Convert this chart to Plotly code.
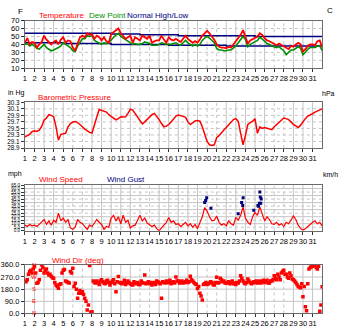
import plotly.graph_objects as go

# ---- observation data -------------------------------------------------------
days = list(range(1, 32))
day_labels = [str(d) for d in days]
weekend_days = [6, 7, 13, 14, 20, 21, 27, 28]

# 6-hourly observation times, as fractional day of month
obs_time = [d + h / 24 for d in range(1, 32) for h in (0, 6, 12, 18)] + [32]
# intermediate direction readings, 3 h after each main observation
mid_time = [d + h / 24 for d in range(1, 32) for h in (3, 9, 15, 21)]

temperature_f = [
    42, 48, 40, 43,  42, 36, 40, 43,  51, 46, 43, 40,  43, 45, 40, 46,
    49, 42, 45, 44,  36, 32, 41, 49,  51, 49, 54, 52,  53, 47, 51, 49,
    45, 49, 44, 42,  53, 55, 58, 60,  54, 51, 47, 49,  51, 42, 49, 47,
    45, 51, 49, 47,  51, 42, 44, 45,  45, 51, 46, 42,  49, 46, 45, 47,
    45, 43, 47, 51,  47, 44, 42, 44,  42, 46, 51, 54,  57, 54, 50, 46,
    40, 37, 36, 36,  35, 37, 36, 40,  44, 47, 52, 58,  50, 41, 45, 47,
    49, 50, 54, 52,  48, 45, 44, 42,  40, 39, 41, 39,  38, 36, 34, 38,
    37, 40, 42, 40,  31, 34, 38, 40,  40, 39, 44, 45,  36,
]

dew_point_f = [
    40, 41, 38, 40,  38, 35, 34, 37,  40, 36, 34, 32,  33, 34, 36, 38,
    42, 40, 38, 36,  32, 31, 38, 43,  47, 47, 51, 50,  51, 45, 43, 41,
    40, 42, 41, 42,  46, 49, 52, 54,  50, 48, 45, 43,  42, 40, 41, 40,
    40, 41, 43, 42,  41, 39, 39, 39,  40, 42, 41, 40,  40, 40, 41, 42,
    40, 39, 42, 45,  42, 40, 38, 40,  38, 40, 45, 48,  50, 48, 45, 42,
    35, 33, 33, 32,  32, 33, 33, 35,  38, 42, 46, 50,  46, 37, 40, 42,
    44, 45, 49, 47,  44, 41, 40, 38,  37, 36, 37, 35,  32, 27, 30, 33,
    33, 35, 37, 35,  27, 30, 34, 36,  36, 36, 38, 38,  32,
]

normal_day = list(range(1, 33))
normal_high_f = [54, 54, 54, 54, 54, 54, 54, 54, 54, 53, 53, 53, 52, 52, 52, 52,
                 51, 51, 51, 51, 51, 51, 51, 51, 50, 50, 50, 50, 50, 50, 50, 50]
normal_low_f = [42, 42, 42, 42, 41, 41, 41, 41, 41, 40, 40, 40, 40, 40, 40, 39,
                39, 39, 39, 39, 39, 38, 38, 38, 38, 38, 38, 38, 38, 38, 38, 38]

pressure_inhg = [
    29.24, 29.28, 29.32, 29.40,  29.43, 29.41, 29.45, 29.56,  29.75, 29.82, 29.92, 29.90,
    29.86, 29.55, 29.14, 29.32,  29.34, 29.35, 29.55, 29.65,  29.70, 29.71, 29.68, 29.60,
    29.55, 29.48, 29.42, 29.38,  29.36, 29.65, 29.85, 30.08,  30.06, 30.02, 30.00, 29.92,
    29.86, 29.82, 29.76, 29.80,  29.86, 29.85, 29.86, 29.96,  30.09, 30.06, 29.95, 29.82,
    29.72, 29.64, 29.70, 29.78,  29.85, 29.92, 29.96, 29.88,  29.77, 29.65, 29.55, 29.57,
    29.62, 29.70, 29.80, 29.88,  29.91, 29.90, 29.87, 29.84,  29.70, 29.62, 29.68, 29.73,
    29.74, 29.72, 29.55, 29.30,  29.10, 29.00, 28.98, 29.00,  29.22, 29.28, 29.35, 29.45,
    29.53, 29.60, 29.70, 29.77,  29.80, 29.72, 29.35, 29.00,  29.28, 29.62, 29.68, 29.72,
    29.80, 29.35, 29.55, 29.50,  29.53, 29.50, 29.48, 29.46,  29.55, 29.62, 29.70, 29.78,
    29.82, 29.80, 29.77, 29.70,  29.62, 29.58, 29.53, 29.60,  29.72, 29.80, 29.88, 29.91,
    29.95, 30.00, 30.03, 30.06,  30.10,
]

wind_speed_mph = [
    8, 6, 9, 7,  8, 6, 9, 12,  16, 9, 14, 8,  15, 12, 25, 14,
    18, 12, 16, 4,  2, 5, 16, 12,  10, 6, 2, 8,  6, 11, 16, 12,
    9, 2, 6, 5,  18, 22, 14, 20,  10, 22, 12, 15,  4, 7, 8, 15,
    22, 14, 18, 11,  9, 6, 8, 3,  0, 4, 8, 12,  19, 12, 14, 9,
    10, 6, 9, 12,  7, 10, 5, 9,  3, 12, 20, 33,  28, 20, 14, 15,
    21, 12, 8, 10,  7, 14, 10, 8,  19, 15, 22, 34,  18, 12, 9, 20,
    26, 22, 34, 24,  14, 20, 16, 10,  9, 12, 8, 10,  6, 12, 10, 15,
    21, 16, 8, 3,  1, 3, 6, 10,  12, 14, 10, 12,  7,
]

gust_time = [19.75, 19.85, 19.96, 20.40, 23.25, 23.60, 23.72, 23.76,
             24.87, 25.30, 25.35, 25.45, 25.50, 25.55, 25.60, 25.65]
gust_mph = [40, 43, 47, 32, 24, 40, 36, 47, 29, 36, 35, 39, 55, 48, 39, 45]

wind_dir_deg = [
    240, 250, 310, 300,  345, 223, 250, 360,  300, 330, 285, 275,  260, 210, 186, 220,
    320, 240, 230, 310,  335, 223, 112, 170,  160, 112, 25, 355,  12, 230, 240, 215,
    250, 225, 240, 230,  230, 250, 161, 273,  225, 230, 215, 240,  220, 210, 225, 230,
    215, 230, 285, 225,  220, 210, 230, 240,  225, 112, 230, 240,  230, 220, 235, 270,
    240, 230, 225, 235,  230, 275, 240, 220,  185, 150, 100, 220,  215, 225, 230, 210,
    268, 230, 250, 240,  225, 235, 230, 220,  215, 225, 280, 240,  220, 255, 230, 225,
    230, 225, 240, 235,  230, 245, 225, 240,  280, 250, 270, 300,  320, 290, 260, 280,
    250, 230, 200, 190,  124, 50, 220, 340,  350, 355, 330, 17,  198,
]

wind_dir_mid_deg = [
    235, 290, 320, 330,  300, 230, 320, 340,  320, 300, 290, 265,  230, 200, 215, 300,
    325, 235, 225, 300,  200, 180, 150, 150,  140, 90, 62, 10,  240, 225, 230, 240,
    235, 220, 245, 210,  240, 220, 235, 230,  220, 245, 225, 230,  215, 235, 220, 215,
    240, 225, 220, 235,  230, 225, 215, 235,  220, 235, 225, 230,  245, 230, 225, 240,
    225, 240, 230, 245,  235, 250, 230, 215,  200, 130, 215, 230,  220, 235, 215, 230,
    225, 260, 235, 225,  230, 220, 240, 225,  230, 240, 260, 225,  230, 240, 220, 235,
    240, 230, 225, 245,  235, 225, 240, 250,  260, 290, 250, 310,  290, 270, 300, 255,
    240, 215, 195, 220,  200, 20, 330, 345,  360, 340, 350, 62,
]

# ---- axis tick labels -----------------------------------------------------
temp_ticks = [10, 20, 30, 40, 50, 60, 70]
temp_labels = ["10", "20", "30", "40", "50", "60", "70"]
temp_c_labels = ["-12", "-7", "-1", "4", "10", "16", "21"]

press_ticks = [28.9, 29.1, 29.3, 29.5, 29.7, 29.9, 30.1, 30.3]
press_labels = ["28.9", "29.1", "29.3", "29.5", "29.7", "29.9", "30.1", "30.3"]
hpa_labels = ["979", "985", "992", "999", "1006", "1013", "1019", "1026"]

wind_ticks = [0, 5, 10, 15, 20, 25, 30, 35, 40, 45, 50, 55, 60, 65]
wind_labels = ["0.0", "5.0", "10.0", "15.0", "20.0", "25.0", "30.0", "35.0",
               "40.0", "45.0", "50.0", "55.0", "60.0", "65.0"]
kmh_labels = ["0", "8", "16", "24", "32", "40", "48", "56", "64", "72", "80",
              "89", "97", "105"]

dir_ticks = [0, 90, 180, 270, 360]
dir_labels = ["0.0", "90.0", "180.0", "270.0", "360.0"]
compass_deg = [360, 270, 180, 90, 0]
compass_labels = ["N", "W", "S", "E", "N"]

# ---- styling ----------------------------------------------------------------
W, H = 350, 336
FONT = "Liberation Sans, Arial, sans-serif"
RED, GREEN, NAVY = "#ff0000", "#009000", "#000080"
GRID = "#c4c4c4"
FRAME = "#6a6a6a"
X0, X1 = 23, 322
# (top, bottom) pixel rows of the four plot areas
panels = [(17, 66), (101, 148), (186, 233), (268, 318)]


def yfrac(py):
    return 1 - py / H


fig = go.Figure()

# temperature panel
fig.add_trace(go.Scatter(x=normal_day, y=normal_high_f, mode="lines", line_shape="hv",
                         line=dict(color=NAVY, width=1.5), xaxis="x", yaxis="y"))
fig.add_trace(go.Scatter(x=normal_day, y=normal_low_f, mode="lines", line_shape="hv",
                         line=dict(color=NAVY, width=1.5), xaxis="x", yaxis="y"))
fig.add_trace(go.Scatter(x=obs_time, y=dew_point_f, mode="lines",
                         line=dict(color=GREEN, width=1.6), xaxis="x", yaxis="y"))
fig.add_trace(go.Scatter(x=obs_time, y=temperature_f, mode="lines",
                         line=dict(color=RED, width=1.8), xaxis="x", yaxis="y"))

# pressure panel
fig.add_trace(go.Scatter(x=obs_time, y=pressure_inhg, mode="lines",
                         line=dict(color=RED, width=1.5), xaxis="x2", yaxis="y2"))

# wind speed / gust panel
fig.add_trace(go.Scatter(x=obs_time, y=wind_speed_mph, mode="lines",
                         line=dict(color=RED, width=1.2), xaxis="x3", yaxis="y3"))
fig.add_trace(go.Scatter(x=gust_time, y=gust_mph, mode="markers",
                         marker=dict(color=NAVY, size=3, symbol="square"),
                         xaxis="x3", yaxis="y3"))

# wind direction panel
for t, v in ((obs_time, wind_dir_deg), (mid_time, wind_dir_mid_deg)):
    fig.add_trace(go.Scatter(x=t, y=v, mode="markers",
                             marker=dict(color=RED, size=3.5, symbol="square"),
                             xaxis="x4", yaxis="y4"))

axis_specs = [
    dict(rng=[10, 70], ticks=temp_ticks, left=temp_labels, right=temp_c_labels,
         hdash=["dot"] * 7, fs=7.5),
    dict(rng=[28.9, 30.3], ticks=press_ticks, left=press_labels, right=hpa_labels,
         hdash=["dot"] * 8, fs=6.3),
    dict(rng=[0, 65], ticks=wind_ticks, left=wind_labels, right=kmh_labels,
         hdash=["solid" if v % 10 == 0 else "dot" for v in wind_ticks], fs=4.5),
    dict(rng=[0, 360], ticks=dir_ticks, left=dir_labels, right=[""] * 5,
         hdash=["solid"] * 5, fs=7.5),
]

layout = dict(
    width=W, height=H, autosize=False, showlegend=False,
    margin=dict(l=0, r=0, t=0, b=0),
    paper_bgcolor="white", plot_bgcolor="white",
    font=dict(family=FONT, size=8, color="black"),
)

shapes = []
for i, ((top, bot), spec) in enumerate(zip(panels, axis_specs), start=1):
    sx = "" if i == 1 else str(i)
    dom_y = [yfrac(bot), yfrac(top)]
    layout["xaxis" + sx] = dict(
        domain=[X0 / W, X1 / W], anchor="y" + sx, range=[1, 32],
        tickmode="array", tickvals=days, ticktext=day_labels, tickangle=0,
        ticks="outside", ticklen=3, tickcolor="#333", showgrid=False,
        showline=True, linecolor=FRAME, linewidth=1, mirror=True,
        zeroline=False, tickfont=dict(size=7.5), fixedrange=True,
    )
    layout["yaxis" + sx] = dict(
        domain=dom_y, anchor="x" + sx, range=spec["rng"],
        tickmode="array", tickvals=spec["ticks"], ticktext=spec["left"],
        ticks="outside", ticklen=3, tickcolor="#333", showgrid=False,
        showline=True, linecolor=FRAME, linewidth=1, mirror=True,
        zeroline=False, tickfont=dict(size=spec["fs"]), fixedrange=True,
    )
    layout["yaxis" + str(i + 4)] = dict(
        overlaying="y" + sx, anchor="x" + sx, side="right", range=spec["rng"],
        tickmode="array", tickvals=spec["ticks"], ticktext=spec["right"],
        ticks="outside", ticklen=3, tickcolor="#333", showgrid=False,
        showline=False, zeroline=False, tickfont=dict(size=spec["fs"]),
        fixedrange=True,
    )
    # day grid: solid on weekdays, dotted on weekends
    for d in days[1:]:
        shapes.append(dict(
            type="line", xref="x" + sx, yref="y" + sx + " domain",
            x0=d, x1=d, y0=0, y1=1, layer="below",
            line=dict(color=GRID, width=1,
                      dash="dot" if d in weekend_days else "solid"),
        ))
    for v, dsh in zip(spec["ticks"][1:-1], spec["hdash"][1:-1]):
        shapes.append(dict(
            type="line", xref="x" + sx + " domain", yref="y" + sx,
            x0=0, x1=1, y0=v, y1=v, layer="below",
            line=dict(color=GRID, width=1, dash=dsh),
        ))
layout["shapes"] = shapes


def label(text, px, py, color="black", size=8, anchor="left"):
    return dict(text=text, x=px / W, y=yfrac(py), xref="paper", yref="paper",
                xanchor=anchor, yanchor="middle", showarrow=False,
                font=dict(family=FONT, size=size, color=color))


annotations = [
    label("F", 14, 8),
    label("Temperature", 35, 12, RED),
    label("Dew Point", 85, 12, GREEN),
    label("Normal High/Low", 124, 12, NAVY),
    label("C", 325, 7),
    label("in Hg", 4, 91, size=7),
    label("Barometric Pressure", 34, 96, RED),
    label("hPa", 320, 92, size=7),
    label("mph", 4, 175, size=7),
    label("Wind Speed", 35, 180, RED),
    label("Wind Gust", 104, 180, NAVY),
    label("km/h", 321, 175, size=7),
    label("Wind Dir (deg)", 48, 264, RED),
]
for deg, txt in zip(compass_deg, compass_labels):
    annotations.append(dict(text=txt, x=1.95, y=deg, xref="x4", yref="y4",
                            showarrow=False, font=dict(family=FONT, size=6, color=RED)))
layout["annotations"] = annotations

fig.update_layout(**layout)
fig.write_html("out.html")
